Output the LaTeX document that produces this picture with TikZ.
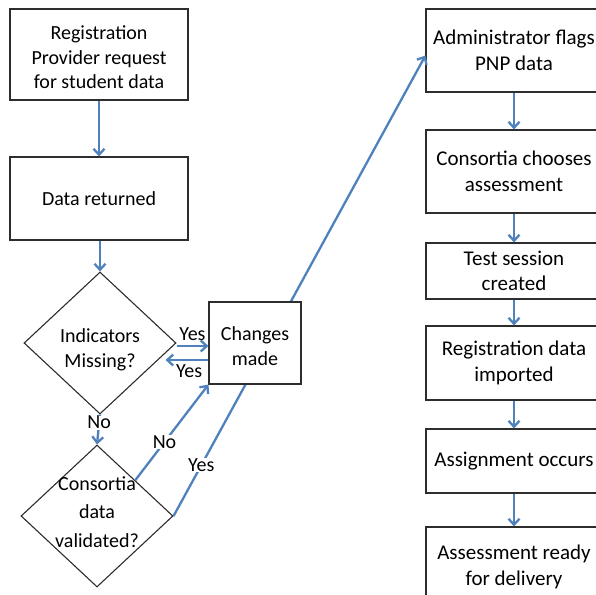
\documentclass[tikz,border=0pt]{standalone}
\usepackage{fontspec}
\setmainfont{Carlito}
\usetikzlibrary{shapes.geometric,arrows.meta,calc}
\definecolor{arrblue}{RGB}{79,129,189}
\definecolor{edgegray}{RGB}{45,45,45}
\begin{document}
\begin{tikzpicture}[x=1pt,y=-1pt,
  box/.style={draw=edgegray, line width=1.1pt, fill=white, align=center, inner sep=0pt, font=\fontsize{20}{24.5}\selectfont},
  rbox/.style={box, minimum width=176pt, font=\fontsize{21}{25.5}\selectfont},
  dia/.style={diamond, draw=edgegray, line width=1.1pt, fill=white, inner sep=0pt, minimum width=152pt, minimum height=142pt},
  dtext/.style={align=center, inner sep=0pt, font=\fontsize{20}{24.5}\selectfont},
  arr/.style={draw=arrblue, line width=2.3pt, -{Straight Barb[length=6pt,width=11pt]}},
  lbl/.style={font=\fontsize{20}{24}\selectfont, inner sep=0.5pt}]
\useasboundingbox (0,0) rectangle (596,594);
\clip (0,0) rectangle (596,594);
% left column
\node[box, minimum width=178pt, minimum height=91pt] (reg) at (99,54.5) {};
\node[dtext] (regt) at (99,57.5) {Registration\\Provider request\\for student data};
\node[box, minimum width=178pt, minimum height=83pt] (ret) at (99,198.5) {Data returned};
\node[dia] (ind) at (100,343) {};
\node[dtext] (indt) at (100,350) {Indicators\\Missing?};
\node[dia] (val) at (97,516) {};
\node[dtext, font=\fontsize{20}{28.5}\selectfont] (valt) at (97,512) {Consortia\\data\\validated?};
% right column
\node[rbox, minimum height=83pt] (adm) at (514,50.5) {Administrator flags\\PNP data};
\node[rbox, minimum height=83pt] (cho) at (514,171.5) {Consortia chooses\\assessment};
\node[rbox, minimum height=56pt] (tst) at (514,271) {Test session\\created};
\node[rbox, minimum height=74pt] (imp) at (514,363) {Registration data\\imported};
\node[rbox, minimum height=64pt] (asg) at (514,461) {Assignment occurs};
\node[rbox, minimum height=80pt] (rdy) at (514,567) {Assessment ready\\for delivery};
% long Yes line passes behind the Changes box
\draw[arr] (val.east) -- ([yshift=-5pt]adm.west) node[lbl, fill=white, pos=0.11] (yes3) {Yes};
\node[box, minimum width=92pt, minimum height=82pt] (chg) at (255,343) {};
\node[dtext] (chgt) at (255,346) {Changes\\made};
% connectors
\draw[arr] (reg) -- (ret);
\draw[arr] (ind.north |- ret.south) -- (ind.north);
\draw[arr] ([yshift=-3pt]ind.east) -- ([yshift=-3pt]ind.east -| chg.west) node[lbl, midway, above=4pt] (yes1) {Yes};
\draw[arr] ([yshift=-17pt]ind.east -| chg.west) -- ([xshift=-11pt,yshift=-17pt]ind.east) node[lbl, pos=0.45, below=3pt] (yes2) {Yes};
\draw[arr] (ind.south) -- (val.north) node[lbl, fill=white, pos=0.27] (no1) {No};
\draw[arr] (val.north east) -- (chg.south west) node[lbl, fill=white, pos=0.4] (no2) {No};
\draw[arr] (adm) -- (cho);
\draw[arr] (cho) -- (tst);
\draw[arr] (tst) -- (imp);
\draw[arr] (imp) -- (asg);
\draw[arr] (asg) -- (rdy);
\end{tikzpicture}
\end{document}
